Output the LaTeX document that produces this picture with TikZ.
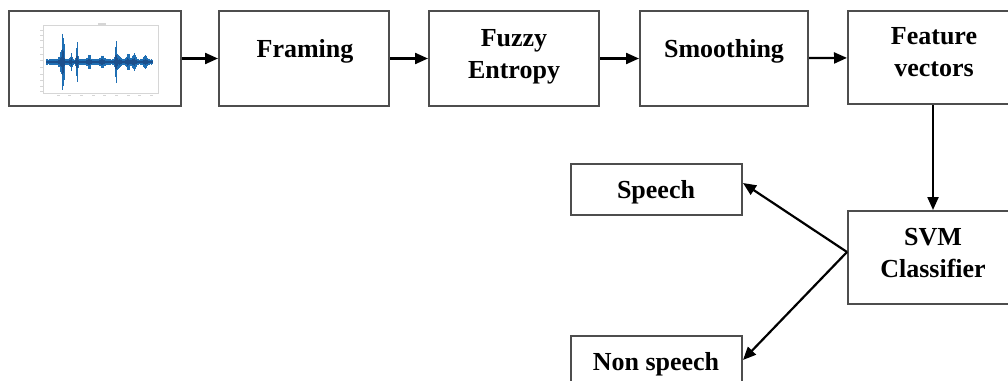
\documentclass[tikz,border=0pt]{standalone}
\usepackage{fontspec}
\setmainfont{Liberation Serif}
\usetikzlibrary{arrows.meta}
\definecolor{boxline}{HTML}{4D4D4D}
\definecolor{wave}{HTML}{1F6FB4}
\definecolor{wavecore}{HTML}{1B4F8C}
\definecolor{axisgray}{HTML}{D6D6D6}
\begin{document}
\begin{tikzpicture}[x=1pt,y=-1pt,
  box/.style={draw=boxline, line width=2pt, minimum width=170pt,
    minimum height=95pt, inner sep=0pt, fill=white},
  smallbox/.style={box, minimum height=51pt},
  lbl/.style={font=\fontsize{26}{32}\selectfont\bfseries, align=center,
    inner sep=0pt, anchor=base},
  flow/.style={-{Triangle[length=13pt,width=11pt]}, line width=2.2pt, black},
  tick/.style={axisgray, line width=1pt}]
\useasboundingbox (0,0) rectangle (1008,380);

% processing chain
\node[box, minimum width=172pt] (signal) at (95,58.5) {};
\node[box] (framing) at (304,58.5) {};
\node[box] (fuzzy) at (514,58.5) {};
\node[box, minimum width=168pt] (smooth) at (724,58.5) {};
\node[box, minimum height=93pt] (feature) at (933,57.5) {};
\node[box, minimum height=93pt] (svm) at (933,257.5) {};
\node[smallbox, minimum width=171pt] (speech) at (656.5,189.5) {};
\node[smallbox, minimum width=171pt] (nonspeech) at (656.5,361.5) {};

% labels (base anchor = baseline of the last line)
\node[lbl] (framing-t) at (305,57) {Framing};
\node[lbl] (fuzzy-t) at (514,78) {Fuzzy\\Entropy};
\node[lbl] (smooth-t) at (724,57) {Smoothing};
\node[lbl] (feature-t) at (934,76) {Feature\\vectors};
\node[lbl] (svm-t) at (933,277) {SVM\\Classifier};
\node[lbl] (speech-t) at (656,198) {Speech};
\node[lbl] (nonspeech-t) at (656,370) {Non speech};

% small waveform plot inside the first box
\draw[axisgray, line width=0.6pt] (43,25) rectangle (158,93);
\draw[axisgray, line width=1.2pt] (98,24) -- (106,24);
\foreach \ty in {30,35,40,47,54,60,67,74,80,86,91}
  \draw[tick] (40,\ty) -- (43,\ty);
\foreach \tx in {57,68,80,92,103,115,127,138,150}
  \draw[tick] (\tx,95) -- (\tx+3,95);
\foreach \x in {46,46.5,...,152} {
  \pgfmathsetmacro{\env}{3
    + 27*exp(max(-10,-((\x-63)/1.2)^2)) + 7*exp(max(-10,-((\x-61)/2.2)^2))
    + 7*exp(max(-10,-((\x-71)/1.1)^2)) + 17*exp(max(-10,-((\x-77)/1)^2))
    + 5*exp(max(-10,-((\x-89)/1.8)^2)) + 4*exp(max(-10,-((\x-102)/2.2)^2))
    + 15*exp(max(-10,-((\x-116)/1)^2)) + 4*exp(max(-10,-((\x-118)/3)^2))
    + 6*exp(max(-10,-((\x-128)/2)^2)) + 6*exp(max(-10,-((\x-134)/2)^2))
    + 4*exp(max(-10,-((\x-145)/2)^2))}
  \pgfmathsetmacro{\amp}{\env*(0.6+0.4*abs(sin(\x*97)))}
  \draw[wave, line width=0.9pt] (\x,{62-\amp}) -- (\x,{62+\amp});
  \draw[wavecore, line width=0.6pt] (\x,{62-0.45*\amp}) -- (\x,{62+0.45*\amp});
}

% connectors
\draw[flow] (signal) -- (framing);
\draw[flow] (framing) -- (fuzzy);
\draw[flow] (fuzzy) -- (smooth);
\draw[flow] (smooth) -- (feature);
\draw[flow] (feature) -- (svm);
\draw[flow] ([yshift=5.5pt]svm.west) -- ([yshift=6.5pt]speech.east);
\draw[flow] ([yshift=5.5pt]svm.west) -- ([yshift=1.5pt]nonspeech.east);
\end{tikzpicture}
\end{document}
